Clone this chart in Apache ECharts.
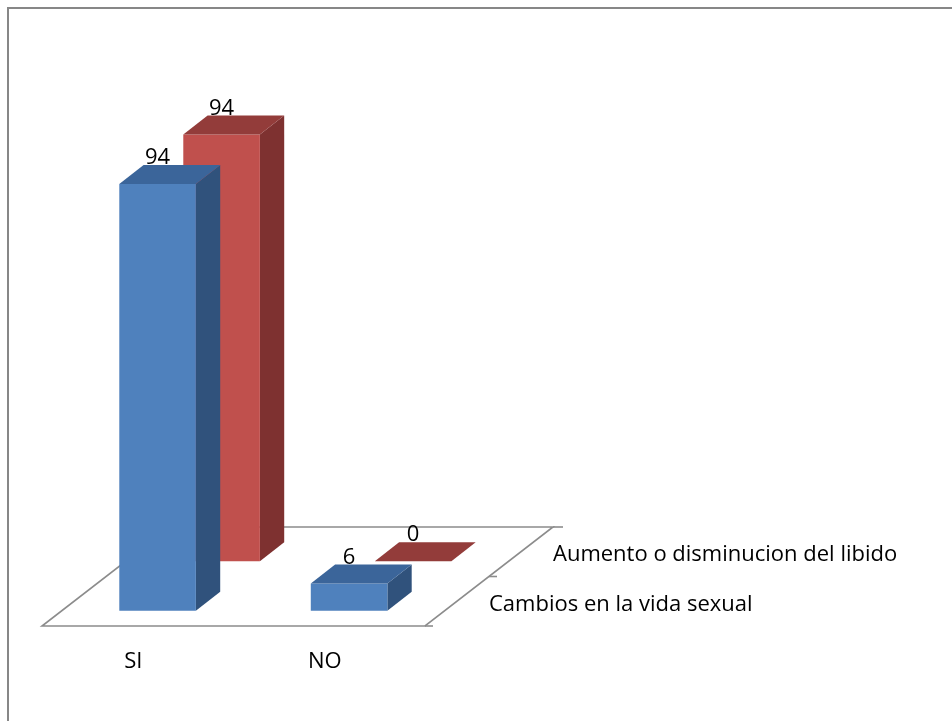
<!DOCTYPE html>
<html>
<head>
<meta charset="utf-8">
<script src="https://cdn.jsdelivr.net/npm/echarts@6/dist/echarts.min.js"></script>
<style>
  html, body { margin: 0; padding: 0; background: #fff; }
  #chart { width: 952px; height: 721px; }
</style>
</head>
<body>
<div id="chart"></div>
<script>
// Categories and the two series of the 3D column chart
const categories = ['SI', 'NO'];
const seriesNames = ['Cambios en la vida sexual', 'Aumento o disminucion del libido'];
const cambiosValues = [94, 6];
const libidoValues = [94, 0];

// Depth of the floor (pixels, from front edge to back edge) and bar geometry
const DEPTH = [128, -99];
const ROW_FRACTION = 0.5;       // each series takes half of the depth
const BAR_DEPTH = 0.19;          // fraction of full depth occupied by a bar
const BAR_OFFSET = 0.155;        // fraction from row start to bar front
const BAR_WIDTH = 0.4;           // fraction of category band
const FONT = '"Open Sans", sans-serif';
const TEXT_SIZE = 22;

const palettes = [
  { front: '#4f81bd', top: '#3b659a', side: '#30527c' },
  { front: '#c0504d', top: '#933c3a', side: '#7e3130' }
];

function barRenderer(row) {
  return function (params, api) {
    const cat = api.value(0);
    const val = api.value(1);
    const base = api.coord([cat, 0]);
    const top = api.coord([cat, val]);
    const band = api.size([1, 0])[0];
    const w = band * BAR_WIDTH;
    const f = row * ROW_FRACTION + BAR_OFFSET;
    const ox = DEPTH[0] * f, oy = DEPTH[1] * f;
    const dx = DEPTH[0] * BAR_DEPTH, dy = DEPTH[1] * BAR_DEPTH;
    const x0 = base[0] - w / 2 + ox, x1 = x0 + w;
    const yb = base[1] + oy, yt = top[1] + oy;
    const pal = palettes[row];
    const children = [];
    if (yb - yt > 0.5) {
      children.push({
        type: 'polygon',
        shape: { points: [[x1, yt], [x1 + dx, yt + dy], [x1 + dx, yb + dy], [x1, yb]] },
        style: { fill: pal.side }
      });
      children.push({
        type: 'rect',
        shape: { x: x0, y: yt, width: w, height: yb - yt },
        style: { fill: pal.front }
      });
    }
    children.push({
      type: 'polygon',
      shape: { points: [[x0, yt], [x1, yt], [x1 + dx, yt + dy], [x0 + dx, yt + dy]] },
      style: { fill: pal.top }
    });
    children.push({
      type: 'text',
      style: {
        x: x0 + w / 2, y: yt - 26,
        text: String(val),
        align: 'center', verticalAlign: 'middle',
        font: TEXT_SIZE + 'px ' + FONT,
        fill: '#000'
      },
      z2: 10
    });
    return { type: 'group', children: children };
  };
}

function floorRenderer(params, api) {
  const band = api.size([1, 0])[0];
  const first = api.coord([0, 0]);
  const last = api.coord([categories.length - 1, 0]);
  const xl = first[0] - band / 2, xr = last[0] + band / 2, y0 = first[1];
  const bx = DEPTH[0], by = DEPTH[1];
  const line = { stroke: '#8c8c8c', lineWidth: 1.6, fill: null };
  const children = [
    {
      type: 'polygon',
      shape: { points: [[xl, y0], [xr, y0], [xr + bx, y0 + by], [xl + bx, y0 + by]] },
      style: { fill: '#fff', stroke: '#8c8c8c', lineWidth: 1.6 }
    },
    { type: 'line', shape: { x1: xr, y1: y0, x2: xr + 8, y2: y0 }, style: line },
    { type: 'line', shape: { x1: xr + bx * ROW_FRACTION, y1: y0 + by * ROW_FRACTION, x2: xr + bx * ROW_FRACTION + 8, y2: y0 + by * ROW_FRACTION }, style: line },
    { type: 'line', shape: { x1: xr + bx, y1: y0 + by, x2: xr + bx + 10, y2: y0 + by }, style: line }
  ];
  // depth axis labels, one per series row
  seriesNames.forEach(function (name, r) {
    const f = r * ROW_FRACTION + ROW_FRACTION / 2;
    children.push({
      type: 'text',
      style: {
        x: xr + bx * f + 32, y: y0 + by * f + 3,
        text: name,
        align: 'left', verticalAlign: 'middle',
        font: TEXT_SIZE + 'px ' + FONT,
        fill: '#000'
      }
    });
  });
  return { type: 'group', children: children };
}

const chart = echarts.init(document.getElementById('chart'), null, { renderer: 'canvas' });
chart.setOption({
  backgroundColor: '#fff',
  animation: false,
  graphic: [{
    type: 'rect',
    shape: { x: 8, y: 8, width: 980, height: 760 },
    style: { fill: null, stroke: '#878787', lineWidth: 2 },
    silent: true
  }],
  grid: { left: 42, width: 383, top: 172, height: 454 },
  xAxis: {
    type: 'category',
    data: categories,
    axisLine: { show: false },
    axisTick: { show: false },
    splitLine: { show: false },
    axisLabel: {
      margin: 25,
      fontSize: TEXT_SIZE,
      fontFamily: FONT,
      color: '#000',
      padding: [0, 9, 0, 0]
    }
  },
  yAxis: { type: 'value', min: 0, max: 100, show: false },
  series: [
    {
      type: 'custom', name: 'floor', z: 1,
      renderItem: floorRenderer,
      data: [[0, 0]],
      silent: true
    },
    {
      type: 'custom', name: seriesNames[1], z: 2,
      renderItem: barRenderer(1),
      data: categories.map(function (c, i) { return [i, libidoValues[i]]; })
    },
    {
      type: 'custom', name: seriesNames[0], z: 3,
      renderItem: barRenderer(0),
      data: categories.map(function (c, i) { return [i, cambiosValues[i]]; })
    }
  ]
});
</script>
</body>
</html>
